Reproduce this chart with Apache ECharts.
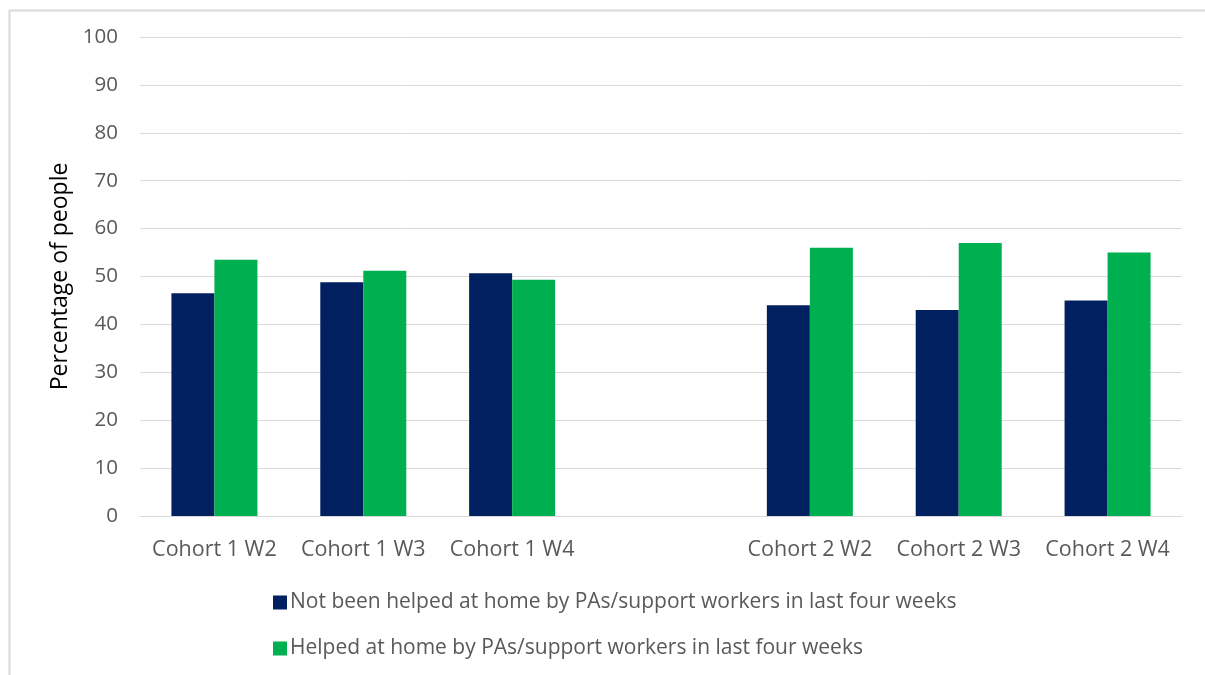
<!DOCTYPE html>
<html><head><meta charset="utf-8">
<script src="https://cdn.jsdelivr.net/npm/echarts@6/dist/echarts.min.js"></script>
<style>html,body{margin:0;padding:0;background:#fff}#c{width:1205px;height:675px}</style>
</head><body><div id="c"></div>
<script>
const categories = ['Cohort 1 W2', 'Cohort 1 W3', 'Cohort 1 W4', '', 'Cohort 2 W2', 'Cohort 2 W3', 'Cohort 2 W4'];
const notHelped = [46.5, 48.8, 50.7, null, 44, 43, 45];
const helped = [53.5, 51.2, 49.3, null, 56, 57, 55];
const seriesNames = ['Not been helped at home by PAs/support workers in last four weeks', 'Helped at home by PAs/support workers in last four weeks'];
const yTicks = {min: 0, max: 100, interval: 10};
const FONT = '"Open Sans", sans-serif';
const chart = echarts.init(document.getElementById('c'), null, {renderer: 'canvas'});
chart.setOption({
  animation: false,
  backgroundColor: '#fff',
  graphic: [{type: 'rect', left: 7, top: 8, shape: {width: 1210, height: 700}, style: {fill: 'none', stroke: '#d9d9d9', lineWidth: 2}, silent: true}],
  grid: {left: 140, right: 23, top: 37, bottom: 159, containLabel: false},
  legend: {
    orient: 'vertical', left: 268, top: 587, itemGap: 25, itemWidth: 14, itemHeight: 14,
    icon: 'rect',
    textStyle: {color: '#595959', fontSize: 21, fontFamily: FONT, padding: [0, 0, 0, -2]},
    data: seriesNames
  },
  xAxis: {
    type: 'category', data: categories,
    axisLine: {show: true, lineStyle: {color: '#d9d9d9', width: 1}},
    axisTick: {show: false},
    axisLabel: {color: '#595959', fontSize: 21.5, fontFamily: FONT, margin: 23, interval: 0}
  },
  yAxis: {
    type: 'value', min: yTicks.min, max: yTicks.max, interval: yTicks.interval,
    name: 'Percentage of people', nameLocation: 'middle', nameRotate: 90, nameGap: 68,
    nameTextStyle: {color: '#000', fontSize: 23, fontFamily: FONT},
    axisLine: {show: false}, axisTick: {show: false},
    axisLabel: {color: '#595959', fontSize: 20.5, fontFamily: FONT, margin: 22},
    splitLine: {lineStyle: {color: '#d9d9d9', width: 1}}
  },
  series: [
    {name: seriesNames[0], type: 'bar', data: notHelped, barWidth: 43, barGap: '0%', itemStyle: {color: '#002060'}},
    {name: seriesNames[1], type: 'bar', data: helped, barWidth: 43, barGap: '0%', itemStyle: {color: '#00b050'}}
  ]
});
</script></body></html>
